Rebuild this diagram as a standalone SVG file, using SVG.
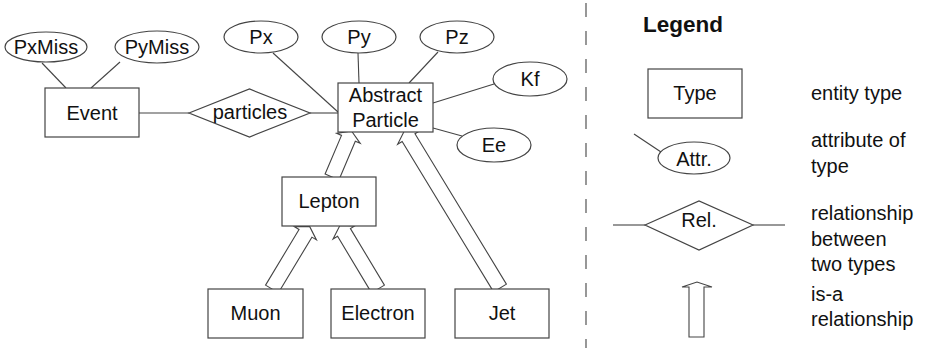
<svg xmlns="http://www.w3.org/2000/svg" width="926" height="348" viewBox="0 0 926 348">
<style>
.shape{fill:#fff;stroke:#444;stroke-width:1.2}
.line{stroke:#444;stroke-width:1.1;fill:none}
.arrow{fill:#fff;stroke:#444;stroke-width:1.1}
text{font-family:"Liberation Sans",Arial,sans-serif;font-size:20px;fill:#111}
.c{text-anchor:middle}
.legend{font-weight:bold;font-size:22.5px}
</style>
<defs>
<path id="isa" d="M0,0"/>
</defs>
<rect width="926" height="348" fill="#fff"/>
<g id="connectors">
<line class="line" x1="42" y1="63" x2="66" y2="88"/>
<line class="line" x1="120" y1="62" x2="91" y2="88"/>
<line class="line" x1="139" y1="113" x2="189" y2="113"/>
<line class="line" x1="310" y1="113" x2="338" y2="113"/>
<line class="line" x1="273" y1="53" x2="338" y2="112"/>
<line class="line" x1="358" y1="53" x2="359" y2="83"/>
<line class="line" x1="438" y1="52" x2="409" y2="83"/>
<line class="line" x1="494" y1="84" x2="433" y2="103"/>
<line class="line" x1="433" y1="128" x2="462" y2="136"/>
<path class="arrow" transform="translate(332,177) rotate(23)" d="M-7.5,0 L-7.5,-42 L-12.8,-42 L0,-50 L12.8,-42 L7.5,-42 L7.5,0 Z"/>
<path class="arrow" transform="translate(272,289) rotate(31)" d="M-7.5,0 L-7.5,-65 L-12.8,-65 L0,-73 L12.8,-65 L7.5,-65 L7.5,0 Z"/>
<path class="arrow" transform="translate(378,289) rotate(-31)" d="M-7.5,0 L-7.5,-66 L-12.8,-66 L0,-74 L12.8,-66 L7.5,-66 L7.5,0 Z"/>
<path class="arrow" transform="translate(500,288) rotate(-31.3)" d="M-7.5,0 L-7.5,-176 L-12.8,-176 L0,-184 L12.8,-176 L7.5,-176 L7.5,0 Z"/>
</g>
<g id="PxMiss"><ellipse class="shape" cx="46" cy="47" rx="41" ry="15"/><text class="c" x="46" y="54">PxMiss</text></g>
<g id="PyMiss"><ellipse class="shape" cx="157" cy="47" rx="42" ry="16"/><text class="c" x="157" y="54">PyMiss</text></g>
<g id="Event"><rect class="shape" x="45" y="88" width="94" height="49"/><text class="c" x="92" y="120">Event</text></g>
<g id="particles"><polygon class="shape" points="189,113 249.5,89 310,113 249.5,137"/><text class="c" x="250" y="119">particles</text></g>
<g id="Px"><ellipse class="shape" cx="261" cy="37" rx="37" ry="16"/><text class="c" x="261" y="44">Px</text></g>
<g id="Py"><ellipse class="shape" cx="359" cy="37" rx="37" ry="16"/><text class="c" x="359" y="44">Py</text></g>
<g id="Pz"><ellipse class="shape" cx="457" cy="37" rx="37" ry="16"/><text class="c" x="457" y="44">Pz</text></g>
<g id="Kf"><ellipse class="shape" cx="530" cy="79" rx="37" ry="17"/><text class="c" x="530" y="86">Kf</text></g>
<g id="Ee"><ellipse class="shape" cx="494" cy="145" rx="37" ry="17"/><text class="c" x="494" y="152">Ee</text></g>
<g id="AbstractParticle"><rect class="shape" x="338" y="83" width="95" height="49"/><text class="c" x="385.5" y="102">Abstract</text><text class="c" x="385.5" y="127">Particle</text></g>
<g id="Lepton"><rect class="shape" x="282" y="177" width="94" height="49"/><text class="c" x="329" y="208">Lepton</text></g>
<g id="Muon"><rect class="shape" x="208" y="289" width="95" height="49"/><text class="c" x="255.5" y="320">Muon</text></g>
<g id="Electron"><rect class="shape" x="331" y="289" width="94" height="49"/><text class="c" x="378" y="320">Electron</text></g>
<g id="Jet"><rect class="shape" x="455" y="289" width="94" height="49"/><text class="c" x="502" y="320">Jet</text></g>
<g id="legend">
<line class="line" x1="586" y1="3" x2="586" y2="348" stroke-dasharray="14 14" stroke-width="1.5"/>
<text class="legend" x="643" y="32">Legend</text>
<rect class="shape" x="648" y="69" width="94" height="49"/><text class="c" x="695" y="100">Type</text>
<text x="811" y="100">entity type</text>
<line class="line" x1="634" y1="134" x2="661" y2="152"/>
<ellipse class="shape" cx="694" cy="158" rx="36" ry="16"/><text class="c" x="694" y="166">Attr.</text>
<text x="811" y="147">attribute of</text>
<text x="811" y="173">type</text>
<line class="line" x1="613" y1="225" x2="645" y2="225"/>
<line class="line" x1="753" y1="225" x2="785" y2="225"/>
<polygon class="shape" points="645,225 699,201 753,225 699,250"/><text class="c" x="699" y="227">Rel.</text>
<text x="811" y="220">relationship</text>
<text x="811" y="246">between</text>
<text x="811" y="271">two types</text>
<path class="arrow" d="M689,337 L689,287 L682,287 L697,282 L712,287 L704,287 L704,337 Z"/>
<text x="811" y="301">is-a</text>
<text x="811" y="326">relationship</text>
</g>
</svg>
